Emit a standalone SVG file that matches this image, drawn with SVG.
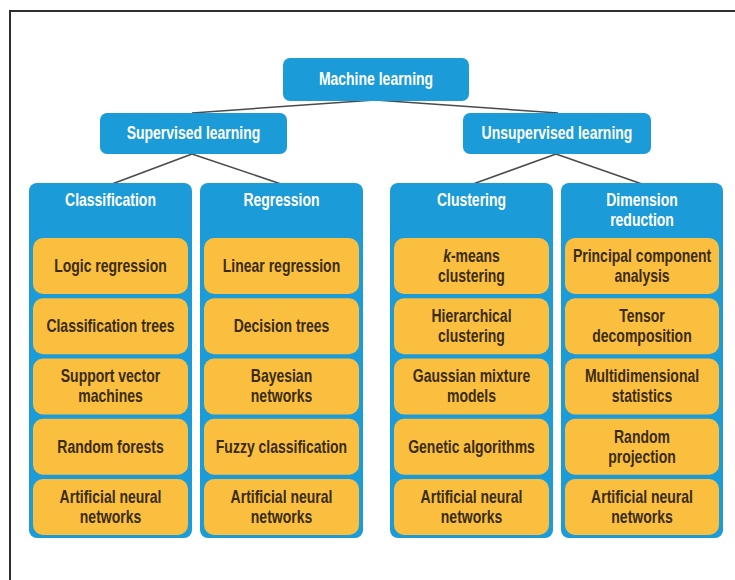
<svg xmlns="http://www.w3.org/2000/svg" width="735" height="580" viewBox="0 0 735 580">
<style>
.frame{stroke:#2e2e2e;stroke-width:2;fill:none}
.blue{fill:#1b9bd8}
.yel{fill:#fbbf3f}
.wt,.bt{font-family:"Liberation Sans",Arial,sans-serif;font-weight:bold;font-size:17.5px;text-anchor:middle;transform-box:fill-box;transform-origin:center;transform:scaleX(0.8)}
.wt{fill:#ffffff}
.bt{fill:#3a2c12}
.conn line{stroke:#4a4a4a;stroke-width:1.5}
</style>
<rect width="735" height="580" fill="#ffffff"/>
<line class="frame" x1="9" y1="11" x2="735" y2="11"/>
<line class="frame" x1="10" y1="10" x2="10" y2="580"/>
<g class="conn" id="connectors">
<line x1="375" y1="100" x2="192" y2="113"/>
<line x1="375" y1="100" x2="558" y2="113"/>
<line x1="192" y1="154" x2="112" y2="184"/>
<line x1="192" y1="154" x2="281" y2="184"/>
<line x1="556" y1="154" x2="473" y2="184"/>
<line x1="556" y1="154" x2="642" y2="184"/>
</g>
<g id="machine-learning">
<rect class="blue" x="283" y="58" width="186" height="43" rx="7"/>
<text class="wt" x="376" y="85.5">Machine learning</text>
</g>
<g id="supervised">
<rect class="blue" x="100" y="113" width="187" height="41" rx="7"/>
<text class="wt" x="193.5" y="139.5">Supervised learning</text>
</g>
<g id="unsupervised">
<rect class="blue" x="463" y="113" width="188" height="41" rx="7"/>
<text class="wt" x="557" y="139.5">Unsupervised learning</text>
</g>
<g id="classification">
<rect class="blue" x="29" y="183" width="163" height="355" rx="8"/>
<text class="wt" x="110.5" y="206.5">Classification</text>
<rect class="yel" x="33" y="238" width="155" height="56" rx="10"/>
<text class="bt" x="110.5" y="272">Logic regression</text>
<rect class="yel" x="33" y="298.25" width="155" height="56" rx="10"/>
<text class="bt" x="110.5" y="332.25">Classification trees</text>
<rect class="yel" x="33" y="358.5" width="155" height="56" rx="10"/>
<text class="bt" x="110.5" y="382.5">Support vector</text>
<text class="bt" x="110.5" y="402.5">machines</text>
<rect class="yel" x="33" y="418.75" width="155" height="56" rx="10"/>
<text class="bt" x="110.5" y="452.75">Random forests</text>
<rect class="yel" x="33" y="479" width="155" height="56" rx="10"/>
<text class="bt" x="110.5" y="503">Artificial neural</text>
<text class="bt" x="110.5" y="523">networks</text>
</g>
<g id="regression">
<rect class="blue" x="200" y="183" width="163" height="355" rx="8"/>
<text class="wt" x="281.5" y="206.5">Regression</text>
<rect class="yel" x="204" y="238" width="155" height="56" rx="10"/>
<text class="bt" x="281.5" y="272">Linear regression</text>
<rect class="yel" x="204" y="298.25" width="155" height="56" rx="10"/>
<text class="bt" x="281.5" y="332.25">Decision trees</text>
<rect class="yel" x="204" y="358.5" width="155" height="56" rx="10"/>
<text class="bt" x="281.5" y="382.5">Bayesian</text>
<text class="bt" x="281.5" y="402.5">networks</text>
<rect class="yel" x="204" y="418.75" width="155" height="56" rx="10"/>
<text class="bt" x="281.5" y="452.75">Fuzzy classification</text>
<rect class="yel" x="204" y="479" width="155" height="56" rx="10"/>
<text class="bt" x="281.5" y="503">Artificial neural</text>
<text class="bt" x="281.5" y="523">networks</text>
</g>
<g id="clustering">
<rect class="blue" x="390" y="183" width="163" height="355" rx="8"/>
<text class="wt" x="471.5" y="206.5">Clustering</text>
<rect class="yel" x="394" y="238" width="155" height="56" rx="10"/>
<text class="bt" x="471.5" y="262"><tspan font-style="italic">k</tspan>-means</text>
<text class="bt" x="471.5" y="282">clustering</text>
<rect class="yel" x="394" y="298.25" width="155" height="56" rx="10"/>
<text class="bt" x="471.5" y="322.25">Hierarchical</text>
<text class="bt" x="471.5" y="342.25">clustering</text>
<rect class="yel" x="394" y="358.5" width="155" height="56" rx="10"/>
<text class="bt" x="471.5" y="382.5">Gaussian mixture</text>
<text class="bt" x="471.5" y="402.5">models</text>
<rect class="yel" x="394" y="418.75" width="155" height="56" rx="10"/>
<text class="bt" x="471.5" y="452.75">Genetic algorithms</text>
<rect class="yel" x="394" y="479" width="155" height="56" rx="10"/>
<text class="bt" x="471.5" y="503">Artificial neural</text>
<text class="bt" x="471.5" y="523">networks</text>
</g>
<g id="dimension-reduction">
<rect class="blue" x="561" y="183" width="162" height="355" rx="8"/>
<text class="wt" x="642" y="206.5">Dimension</text>
<text class="wt" x="642" y="226.5">reduction</text>
<rect class="yel" x="565" y="238" width="154" height="56" rx="10"/>
<text class="bt" x="642" y="262">Principal component</text>
<text class="bt" x="642" y="282">analysis</text>
<rect class="yel" x="565" y="298.25" width="154" height="56" rx="10"/>
<text class="bt" x="642" y="322.25">Tensor</text>
<text class="bt" x="642" y="342.25">decomposition</text>
<rect class="yel" x="565" y="358.5" width="154" height="56" rx="10"/>
<text class="bt" x="642" y="382.5">Multidimensional</text>
<text class="bt" x="642" y="402.5">statistics</text>
<rect class="yel" x="565" y="418.75" width="154" height="56" rx="10"/>
<text class="bt" x="642" y="442.75">Random</text>
<text class="bt" x="642" y="462.75">projection</text>
<rect class="yel" x="565" y="479" width="154" height="56" rx="10"/>
<text class="bt" x="642" y="503">Artificial neural</text>
<text class="bt" x="642" y="523">networks</text>
</g>
</svg>
